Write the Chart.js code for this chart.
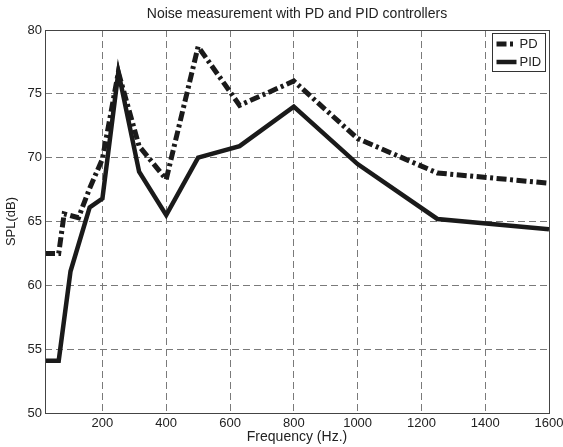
<!DOCTYPE html>
<html>
<head>
<meta charset="utf-8">
<script src="https://cdn.jsdelivr.net/npm/chart.js@4.4.1/dist/chart.umd.min.js"></script>
<style>
html, body { margin: 0; padding: 0; background: #fff; }
#wrap { width: 563px; height: 447px; }
</style>
</head>
<body>
<div id="wrap"><canvas id="noiseChart"></canvas></div>
<script>
// values
var pdFreq = [20, 63, 80, 125, 160, 200, 250, 315, 400, 500, 630, 800, 1000, 1250, 1600];
var pdSpl = [62.5, 62.5, 65.6, 65.3, 67.6, 69.9, 76.7, 70.9, 68.3, 78.7, 74.1, 76.0, 71.5, 68.8, 68.0];
var pidFreq = [20, 63, 100, 160, 200, 250, 315, 400, 500, 630, 800, 1000, 1250, 1600];
var pidSpl = [54.1, 54.1, 61.1, 66.1, 66.8, 76.7, 68.9, 65.5, 70.0, 70.9, 74.0, 69.5, 65.2, 64.4];
var xTicks = [200, 400, 600, 800, 1000, 1200, 1400, 1600];
var yTicks = [50, 55, 60, 65, 70, 75, 80];

var FONT = 'Liberation Sans, Arial, sans-serif';
var INK = '#1a1a1a';

function points(xs, ys) {
    return xs.map(function (x, i) { return { x: x, y: ys[i] }; });
}

var chart_noise = new Chart(document.getElementById('noiseChart'), {
    type: 'line',
    data: {
        datasets: [
            {
                label: 'PD',
                data: points(pdFreq, pdSpl),
                borderColor: INK,
                borderWidth: 5,
                borderDash: [10, 3.5, 3, 3.5],
                borderCapStyle: 'butt',
                borderJoinStyle: 'miter',
                pointRadius: 0,
                tension: 0,
                fill: false
            },
            {
                label: 'PID',
                data: points(pidFreq, pidSpl),
                borderColor: INK,
                borderWidth: 4.5,
                borderJoinStyle: 'miter',
                pointRadius: 0,
                tension: 0,
                fill: false
            }
        ]
    },
    options: {
        animation: false,
        responsive: true,
        maintainAspectRatio: false,
        layout: {
            padding: { left: 0, right: 14, top: 30, bottom: 0 }
        },
        plugins: {
            legend: { display: false },
            title: { display: false },
            tooltip: { enabled: false }
        },
        scales: {
            x: {
                type: 'linear',
                min: 20,
                max: 1600,
                afterBuildTicks: function (scale) {
                    scale.ticks = xTicks.map(function (v) { return { value: v }; });
                },
                afterFit: function (scale) {
                    scale.height = 34;
                    scale.paddingLeft = 0;
                    scale.paddingRight = 0;
                },
                grid: {
                    color: '#7a7a7a',
                    lineWidth: 1,
                    drawTicks: false
                },
                border: { display: false, dash: [7, 4] },
                ticks: {
                    padding: 3,
                    color: '#222',
                    font: { family: FONT, size: 13 },
                    maxRotation: 0,
                    callback: function (v) { return String(v); }
                },
                title: {
                    display: true,
                    text: 'Frequency (Hz.)',
                    color: '#222',
                    font: { family: FONT, size: 14 },
                    padding: { top: 0, bottom: 1 }
                }
            },
            y: {
                min: 50,
                max: 80,
                afterBuildTicks: function (scale) {
                    scale.ticks = yTicks.map(function (v) { return { value: v }; });
                },
                afterFit: function (scale) {
                    scale.width = 45;
                    scale.paddingTop = 0;
                    scale.paddingBottom = 0;
                },
                grid: {
                    color: '#7a7a7a',
                    lineWidth: 1,
                    drawTicks: false
                },
                border: { display: false, dash: [7, 4] },
                ticks: {
                    padding: 3,
                    color: '#222',
                    font: { family: FONT, size: 13 }
                },
                title: {
                    display: true,
                    text: 'SPL(dB)',
                    color: '#222',
                    font: { family: FONT, size: 13 },
                    padding: { top: 4, bottom: 0 }
                }
            }
        }
    },
    plugins: [{
        id: 'frameTitleLegend',
        beforeDraw: function (chart) {
            var ctx = chart.ctx;
            ctx.save();
            ctx.globalCompositeOperation = 'destination-over';
            ctx.fillStyle = 'white';
            ctx.fillRect(0, 0, chart.width, chart.height);
            ctx.restore();
        },
        afterDraw: function (chart) {
            var ctx = chart.ctx;
            var a = chart.chartArea;
            ctx.save();
            // axes box
            ctx.strokeStyle = '#444';
            ctx.lineWidth = 1;
            ctx.setLineDash([]);
            ctx.strokeRect(Math.round(a.left) + 0.5, Math.round(a.top) + 0.5,
                Math.round(a.right - a.left), Math.round(a.bottom - a.top));

            // title over the plot area
            ctx.fillStyle = '#222';
            ctx.font = '14px ' + FONT;
            ctx.textAlign = 'center';
            ctx.textBaseline = 'middle';
            ctx.fillText('Noise measurement with PD and PID controllers', (a.left + a.right) / 2, 14);

            // legend box, top right inside the axes
            ctx.font = '13px ' + FONT;
            var bx = Math.round(a.right) - 56.5, by = Math.round(a.top) + 3.5, bw = 53, bh = 38;
            ctx.fillStyle = '#fff';
            ctx.fillRect(bx, by, bw, bh);
            ctx.strokeStyle = '#333';
            ctx.strokeRect(bx, by, bw, bh);
            chart.data.datasets.forEach(function (ds, i) {
                var ly = by + 10.5 + i * 18;
                ctx.strokeStyle = ds.borderColor;
                ctx.lineWidth = ds.borderWidth;
                ctx.lineCap = 'butt';
                ctx.setLineDash(ds.borderDash || []);
                ctx.beginPath();
                ctx.moveTo(bx + 4, ly);
                ctx.lineTo(bx + 24, ly);
                ctx.stroke();
                ctx.setLineDash([]);
                ctx.fillStyle = '#222';
                ctx.textAlign = 'left';
                ctx.fillText(ds.label, bx + 27, ly + 0.5);
            });
            ctx.restore();
        }
    }]
});
</script>
</body>
</html>
